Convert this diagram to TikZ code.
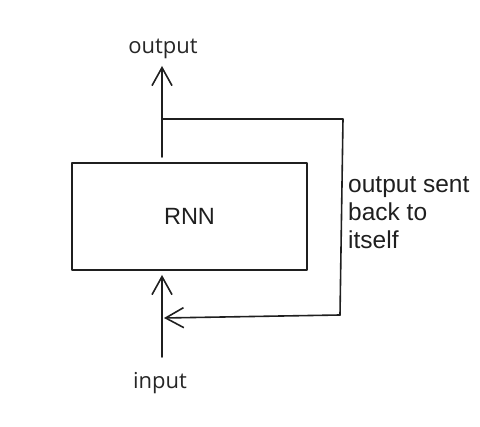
\documentclass[tikz,border=0pt]{standalone}
\usepackage{fontspec}
\setmainfont{Liberation Sans}
\newfontfamily\labelfont{Open Sans}
\usetikzlibrary{arrows.meta}
\begin{document}
\begin{tikzpicture}[x=1pt,y=-1pt,
  stroke/.style={line width=1.6pt,draw=black!88,line cap=round,line join=round},
  openhead/.style={-{Straight Barb[length=18pt,width=20pt,line width=1.6pt]}},
  tag/.style={font=\labelfont\fontsize{22}{26}\selectfont,text=black!85,inner sep=0pt},
  note/.style={font=\fontsize{24.5}{28}\selectfont,text=black!88,align=left,inner sep=0pt}]
  \useasboundingbox (0,0) rectangle (480,427);
  % the recurrent cell
  \node[stroke,draw,minimum width=235pt,minimum height=107pt,inner sep=0pt,
        font=\fontsize{23.5}{28}\selectfont,text=black!88] (rnn) at (189.5,216.5) {RNN};
  % labels
  \node[tag,anchor=base] (out) at (163,54) {output};
  \node[tag,anchor=base] (in) at (160,389) {input};
  \node[note,anchor=north west] (fb) at (348,176) {output sent\\back to\\itself};
  % path coordinates
  \coordinate (oStart) at (162,157);
  \coordinate (oTip) at (162,66);
  \coordinate (split) at (162,119);
  \coordinate (tr) at (343,119);
  \coordinate (br) at (340,315);
  \coordinate (fbTip) at (164,318);
  \coordinate (iStart) at (162,357);
  \coordinate (iTip) at (162,275);
  % output arrow
  \draw[stroke,openhead] (oStart) -- (oTip);
  % feedback loop
  \draw[stroke] (split) -- (tr) -- (br);
  \draw[stroke,openhead] (br) -- (fbTip);
  % input arrow
  \draw[stroke,openhead] (iStart) -- (iTip);
\end{tikzpicture}
\end{document}
